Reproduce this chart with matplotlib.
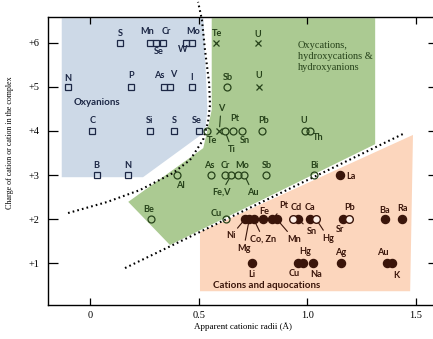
import matplotlib.pyplot as plt
from matplotlib.patches import Polygon

plt.rcParams['font.family'] = ['Liberation Serif', 'DejaVu Serif']

# axis ticks
x_ticks = [0, 0.5, 1.0, 1.5]
x_ticklabels = ['0', '0.5', '1.0', '1.5']
y_ticks = [1, 2, 3, 4, 5, 6]
y_ticklabels = ['+1', '+2', '+3', '+4', '+5', '+6']

# oxyanions (open squares)
sq_names = ['S', 'Mn', 'Se', 'Cr', 'Mo', 'W',
            'N', 'P', 'As', 'V', 'I',
            'C', 'Si', 'S', 'Se',
            'B', 'N']
sq_radius = [0.14, 0.276, 0.305, 0.336, 0.44, 0.468,
             -0.10, 0.19, 0.342, 0.367, 0.468,
             0.01, 0.276, 0.388, 0.503,
             0.03, 0.173]
sq_charge = [6, 6, 6, 6, 6, 6,
             5, 5, 5, 5, 5,
             4, 4, 4, 4,
             3, 3]

# crosses
x_names = ['Te', 'U', 'U', 'V']
x_radius = [0.58, 0.773, 0.778, 0.595]
x_charge = [6, 6, 5, 4]

# oxycations etc. (open circles)
oc_names = ['Sb', 'Te', 'Ti', 'Pt', 'Sn', 'Pb', 'U', 'Th',
            'Al', 'As', 'Cr', 'Fe,V', 'Mo', 'Au', 'Sb', 'Bi',
            'Be', 'Cu']
oc_radius = [0.63, 0.537, 0.621, 0.660, 0.698, 0.790, 0.989, 1.012,
             0.399, 0.557, 0.62, 0.65, 0.68, 0.71, 0.81, 1.032,
             0.281, 0.626]
oc_charge = [5, 4, 4, 4, 4, 4, 4, 4,
             3, 3, 3, 3, 3, 3, 3, 3,
             2, 2]

# open circles among the cations
ob_names = ['Cd', 'Hg', 'Pb']
ob_radius = [0.933, 1.04, 1.193]
ob_charge = [2, 2, 2]

# cations (filled circles)
fc_names = ['La',
            'Ni', 'Mg', 'Co, Zn', 'Fe', 'Pt', 'Mn', 'Sn', 'Ca', 'Sr', 'Ba', 'Ra',
            'Li', 'Cu', 'Hg', 'Na', 'Ag', 'Au', 'K']
fc_radius = [1.150,
             0.713, 0.733, 0.753, 0.798, 0.839, 0.859, 0.956, 1.012, 1.163, 1.358, 1.437,
             0.744, 0.959, 0.982, 1.028, 1.155, 1.368, 1.391]
fc_charge = [3,
             2, 2, 2, 2, 2, 2, 2, 2, 2, 2, 2,
             1, 1, 1, 1, 1, 1, 1]

# shaded regions (radius, charge)
blue_r = [-0.130, 0.522, 0.540, 0.530, 0.244, -0.130]
blue_c = [6.56, 6.56, 4.50, 3.98, 2.95, 2.95]
green_r = [0.560, 1.312, 1.312, 0.368, 0.176, 0.521, 0.537, 0.560]
green_c = [6.56, 6.56, 3.70, 1.41, 2.39, 3.61, 3.95, 4.48]
orange_r = [0.506, 1.486, 1.473, 0.506]
orange_c = [1.705, 3.91, 0.36, 0.36]

# dotted boundaries
curve1_r = [-0.101, 0.078, 0.230, 0.382, 0.460, 0.520, 0.543, 0.552, 0.548, 0.529, 0.515, 0.497]
curve1_c = [2.136, 2.386, 2.659, 3.045, 3.341, 3.795, 4.205, 4.591, 5.091, 5.841, 6.523, 6.932]
line2_r = [0.161, 1.440]
line2_c = [0.886, 3.932]

# label offsets in points from each marker
label_offsets = {
    ('S', 6): (0, 7), ('Mn', 6): (-2, 8), ('Se', 6): (1.5, -6), ('Cr', 6): (2, 8),
    ('Mo', 6): (5.5, 8), ('W', 6): (-6.5, -5),
    ('N', 5): (0, 6), ('P', 5): (-0.5, 8), ('As', 5): (-3.5, 8.5), ('V', 5): (2.5, 9),
    ('I', 5): (0, 7),
    ('C', 4): (0, 7.5), ('Si', 4): (0, 7.5), ('S', 4): (0, 7.5), ('Se', 4): (-2, 7.5),
    ('B', 3): (0, 7), ('N', 3): (0, 7),
    ('Te', 6): (0.5, 7), ('U', 6): (0, 6), ('U', 5): (0, 8.5), ('V', 4): (1.2, 16.5),
    ('Sb', 5): (1, 7), ('Te', 4): (3.5, -6.5), ('Ti', 4): (5, -13.5), ('Pt', 4): (0.7, 9),
    ('Sn', 4): (2.5, -6.5), ('Pb', 4): (1.2, 7.5), ('U', 4): (-0.7, 7.5), ('Th', 4): (6, -5),
    ('Al', 3): (2.4, -7.8), ('As', 3): (-1.2, 6.6), ('Cr', 3): (0.7, 6.6),
    ('Fe,V', 3): (-7.2, -12.6), ('Mo', 3): (3, 6.6), ('Au', 3): (6, -12.6),
    ('Sb', 3): (0.5, 6.6), ('Bi', 3): (0, 6.6),
    ('Be', 2): (-2, 6.7), ('Cu', 2): (-7.2, 3.8),
    ('Cd', 2): (2.4, 8), ('Hg', 2): (8.9, -13.7), ('Pb', 2): (0, 8),
    ('La', 3): (8, -1.4),
    ('Ni', 2): (-10, -12.2), ('Mg', 2): (-4, -21), ('Co, Zn', 2): (7, -14.6),
    ('Fe', 2): (0.7, 5.5), ('Pt', 2): (8.4, 9.4), ('Mn', 2): (12.5, -14.6),
    ('Sn', 2): (9.9, -8.9), ('Ca', 2): (0, 8), ('Sr', 2): (-2, -7.4),
    ('Ba', 2): (-0.5, 6.3), ('Ra', 2): (0, 7.4),
    ('Li', 1): (0, -8), ('Cu', 1): (-3, -7.3), ('Hg', 1): (1.2, 8), ('Na', 1): (1.7, -8),
    ('Ag', 1): (0, 7.6), ('Au', 1): (-3.6, 7.6), ('K', 1): (3.2, -8.9),
}
leaders = {('V', 4), ('Ti', 4), ('Fe,V', 3), ('Au', 3), ('Hg', 2), ('Ni', 2), ('Mg', 2),
           ('Co, Zn', 2), ('Pt', 2), ('Mn', 2), ('Sn', 2)}

navy = '#1c2745'
dgreen = '#26421a'
brown = '#3a150a'

fig = plt.figure(figsize=(4.33, 3.39), dpi=100)
ax = fig.add_axes([0.111, 0.100, 0.901, 0.850])
ax.set_xlim(-0.193, 1.602)
ax.set_ylim(0.045, 6.59)

for rr, cc, col in [(blue_r, blue_c, '#cdd9e7'), (green_r, green_c, '#abca92'),
                    (orange_r, orange_c, '#fcd6bd')]:
    ax.add_patch(Polygon(list(zip(rr, cc)), closed=True, facecolor=col,
                         edgecolor='none', zorder=0))

dots = dict(color='black', lw=1.5, ls=(0, (0.8, 1.5)), zorder=2)
ax.plot(curve1_r, curve1_c, clip_on=False, **dots)
ax.plot(line2_r, line2_c, **dots)

ax.plot(sq_radius, sq_charge, ls='none', marker='s', ms=4.8, mfc='none', mec=navy, mew=0.9, zorder=3)
ax.plot(x_radius, x_charge, ls='none', marker='x', ms=4.2, mec=dgreen, mew=0.9, zorder=3)
ax.plot(oc_radius, oc_charge, ls='none', marker='o', ms=5, mfc='none', mec=dgreen, mew=0.9, zorder=3)
ax.plot(fc_radius, fc_charge, ls='none', marker='o', ms=5.8, mfc=brown, mec=brown, zorder=3)
ax.plot(ob_radius, ob_charge, ls='none', marker='o', ms=5.5, mfc='#fdeee4', mec=brown, mew=1.0, zorder=3)


def put_labels(names, radius, charge, color):
    for n, r, c in zip(names, radius, charge):
        dx, dy = label_offsets[(n, c)]
        arrow = None
        if (n, c) in leaders:
            arrow = dict(arrowstyle='-', color=color, lw=0.8, shrinkA=0.5, shrinkB=3)
        ax.annotate(n, (r, c), xytext=(dx, dy), textcoords='offset points',
                    ha='center', va='center', fontsize=6.6, color=color,
                    family='Lato', fontweight='bold', arrowprops=arrow, zorder=4)


put_labels(sq_names, sq_radius, sq_charge, navy)
put_labels(x_names, x_radius, x_charge, dgreen)
put_labels(oc_names, oc_radius, oc_charge, dgreen)
put_labels(ob_names, ob_radius, ob_charge, brown)
put_labels(fc_names, fc_radius, fc_charge, brown)

ax.text(0.032, 4.636, 'Oxyanions', ha='center', va='center', color=navy,
        family='Lato', fontsize=7, fontweight='bold')
ax.text(0.957, 5.69, 'Oxycations,\nhydroxycations &\nhydroxyanions', ha='left',
        va='center', color=dgreen, fontsize=7.5, linespacing=1.25)
ax.text(0.813, 0.48, 'Cations and aquocations', ha='center', va='center', color=brown,
        family='Lato', fontsize=7, fontweight='bold')

ax.set_xticks(x_ticks, x_ticklabels)
ax.set_yticks(y_ticks, y_ticklabels)
ax.tick_params(direction='in', top=True, right=True, labelsize=7.5, width=0.9)
ax.tick_params(axis='y', length=7, pad=6)
ax.tick_params(axis='x', length=5, pad=4)
for s in ax.spines.values():
    s.set_linewidth(1.0)

ax.set_xlabel('Apparent cationic radii (Å)', fontsize=6.5, labelpad=2)
ax.set_ylabel('Charge of cation or cation in the complex', fontsize=5.8)
ax.yaxis.set_label_coords(-0.087, 0.5625)

fig.savefig('out.png', dpi=100)
